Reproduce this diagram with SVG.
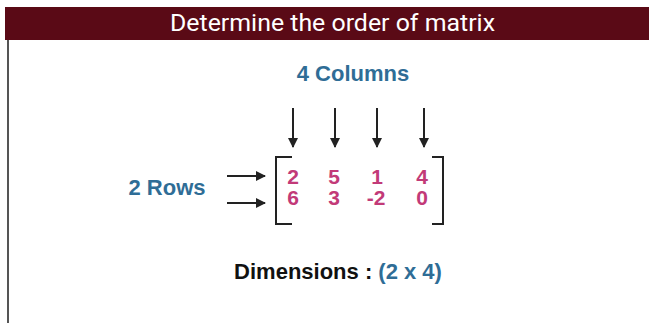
<svg xmlns="http://www.w3.org/2000/svg" width="649" height="328" viewBox="0 0 649 328">
<style>
.t{font-family:"Liberation Sans",Arial,sans-serif;font-weight:bold;}
.blue{fill:#2f6d96;}
.num{fill:#c23a78;font-size:21px;text-anchor:middle;}
.ln{stroke:#222;stroke-width:2;fill:none;}
</style>
<defs>
<marker id="ah" viewBox="0 0 10 10" refX="9" refY="5" markerWidth="5" markerHeight="5" orient="auto" markerUnits="strokeWidth">
<path d="M0,0 L10,5 L0,10 z" fill="#222"/>
</marker>
</defs>
<rect width="649" height="328" fill="#fff"/>
<g id="header">
<rect x="5" y="7" width="644" height="33" fill="#5a0a16"/>
<text x="170" y="31" style="font-family:Roboto,'Liberation Sans',sans-serif" font-size="24" fill="#fff" textLength="325" lengthAdjust="spacingAndGlyphs">Determine the order of matrix</text>
</g>
<line x1="8" y1="40" x2="8" y2="323" stroke="#555" stroke-width="2"/>
<g id="columns-label"><text x="353" y="81" class="t blue" font-size="22" text-anchor="middle">4 Columns</text></g>
<g id="rows-label"><text x="167" y="195" class="t blue" font-size="22" text-anchor="middle">2 Rows</text></g>
<g id="matrix">
<path class="ln" d="M292,157 H276 V224 H292"/>
<path class="ln" d="M432,157 H443 V224 H432"/>
<text x="293" y="184" class="t num">2</text>
<text x="334" y="184" class="t num">5</text>
<text x="377" y="184" class="t num">1</text>
<text x="422" y="184" class="t num">4</text>
<text x="293" y="205" class="t num">6</text>
<text x="334" y="205" class="t num">3</text>
<text x="376" y="205" class="t num">-2</text>
<text x="422" y="205" class="t num">0</text>
</g>
<g id="dimensions"><text x="338" y="279" class="t" font-size="22" text-anchor="middle"><tspan fill="#111">Dimensions : </tspan><tspan class="blue">(2 x 4)</tspan></text></g>
<g id="connectors" class="ln" stroke-width="1.8">
<line x1="293" y1="108" x2="293" y2="147" marker-end="url(#ah)"/>
<line x1="335" y1="108" x2="335" y2="147" marker-end="url(#ah)"/>
<line x1="377" y1="108" x2="377" y2="147" marker-end="url(#ah)"/>
<line x1="424" y1="108" x2="424" y2="147" marker-end="url(#ah)"/>
<line x1="227" y1="176" x2="265" y2="176" marker-end="url(#ah)"/>
<line x1="227" y1="203" x2="265" y2="203" marker-end="url(#ah)"/>
</g>
</svg>
